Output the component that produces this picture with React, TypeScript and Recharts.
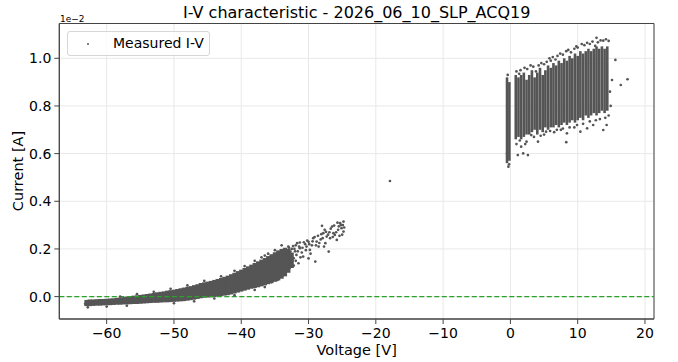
import { ComposedChart, Bar, Scatter, XAxis, YAxis, CartesianGrid, ReferenceLine, ReferenceArea, Legend } from 'recharts'

// current values are in units of 1e-2 A, as on the axis

// dense reverse-bias band, read as voltage columns (low / high current)
const NEG_V = [-63, -62.5, -62, -61.5, -61, -60.5, -60, -59.5, -59, -58.5, -58, -57.5, -57, -56.5, -56, -55.5, -55, -54.5, -54, -53.5,
  -53, -52.5, -52, -51.5, -51, -50.5, -50, -49.5, -49, -48.5, -48, -47.5, -47, -46.5, -46, -45.5, -45, -44.5, -44, -43.5,
  -43, -42.5, -42, -41.5, -41, -40.5, -40, -39.5, -39, -38.5, -38, -37.5, -37, -36.5, -36, -35.5, -35, -34.5, -34, -33.5,
  -33, -32.5]
const NEG_LO = [-0.040, -0.040, -0.039, -0.038, -0.038, -0.037, -0.036, -0.036, -0.035, -0.034, -0.034, -0.033, -0.032, -0.032, -0.031, -0.031, -0.030, -0.029, -0.028, -0.027,
  -0.026, -0.026, -0.025, -0.024, -0.024, -0.023, -0.022, -0.021, -0.020, -0.019, -0.017, -0.015, -0.013, -0.010, -0.007, -0.005, -0.004, -0.003, -0.002, 0.000,
  0.002, 0.004, 0.006, 0.009, 0.013, 0.017, 0.021, 0.025, 0.029, 0.033, 0.036, 0.039, 0.043, 0.047, 0.052, 0.057, 0.062, 0.068, 0.075, 0.085,
  0.100, 0.120]
const NEG_HI = [-0.014, -0.012, -0.012, -0.011, -0.010, -0.010, -0.009, -0.008, -0.007, -0.005, -0.004, -0.002, 0.000, 0.002, 0.004, 0.005, 0.007, 0.009, 0.011, 0.013,
  0.015, 0.018, 0.020, 0.022, 0.025, 0.027, 0.029, 0.032, 0.035, 0.038, 0.041, 0.044, 0.048, 0.052, 0.057, 0.060, 0.063, 0.066, 0.070, 0.074,
  0.078, 0.083, 0.088, 0.094, 0.100, 0.107, 0.113, 0.120, 0.127, 0.134, 0.141, 0.148, 0.155, 0.162, 0.170, 0.178, 0.186, 0.194, 0.200, 0.205,
  0.200, 0.185]

// forward cluster columns (incl. the thin sweep near 0 V)
const POS_V = [-0.5, -0.15, 0.8, 1.2, 1.6, 2.0, 2.4, 2.8, 3.2, 3.6, 4.0, 4.4, 4.8, 5.2, 5.6, 6.0, 6.4, 6.8, 7.2, 7.6,
  8.0, 8.4, 8.8, 9.2, 9.6, 10.0, 10.4, 10.8, 11.2, 11.6, 12.0, 12.4, 12.8, 13.2, 13.6, 14.0, 14.4]
const POS_LO = [0.56, 0.57, 0.66, 0.67, 0.66, 0.67, 0.68, 0.68, 0.69, 0.70, 0.68, 0.70, 0.69, 0.71, 0.70, 0.71, 0.71, 0.72, 0.71, 0.72,
  0.73, 0.72, 0.73, 0.74, 0.73, 0.74, 0.75, 0.74, 0.76, 0.75, 0.76, 0.77, 0.76, 0.77, 0.78, 0.77, 0.78]
const POS_HI = [0.92, 0.90, 0.93, 0.92, 0.93, 0.94, 0.91, 0.93, 0.95, 0.92, 0.94, 0.96, 0.93, 0.95, 0.97, 0.96, 0.98, 0.97, 0.99, 0.98,
  1.00, 0.99, 1.01, 1.00, 1.02, 1.01, 1.03, 1.02, 1.03, 1.04, 1.03, 1.04, 1.05, 1.04, 1.05, 1.04, 1.05]

// individual samples around the edges and in sparse regions
const DOTS: [number, number][] = [
  [-31.7, 0.224], [-31.3, 0.227], [-30.3, 0.210], [-29.3, 0.245], [-28.8, 0.231], [-28.0, 0.297], [-27.8, 0.266], [-27.3, 0.252],
  [-26.5, 0.294], [-26.3, 0.266], [-25.8, 0.238], [-25.3, 0.308], [-25.1, 0.287], [-24.8, 0.273], [-29.0, 0.147], [-30.8, 0.168],
  [-27.0, 0.189], [-33.2, 0.182], [-32.7, 0.189], [-31.3, 0.203], [-29.8, 0.196], [-28.5, 0.210], [-27.5, 0.224], [-26.8, 0.245],
  [-26.1, 0.259], [-25.6, 0.280], [-32.2, 0.161], [-33.7, 0.091], [-33.0, 0.210], [-32.5, 0.200], [-32.0, 0.190], [-31.8, 0.175],
  [-31.0, 0.185], [-30.5, 0.220], [-30.0, 0.230], [-29.5, 0.215], [-28.2, 0.240], [-27.6, 0.280], [-26.9, 0.270], [-25.5, 0.295],
  [-25.0, 0.260], [-24.9, 0.300], [-32.8, 0.120], [-33.3, 0.140], [-32.4, 0.150], [-31.5, 0.140], [-30.0, 0.160], [-34.0, 0.215],
  [-35.0, 0.195], [-36.0, 0.180], [-34.6, 0.070], [-35.5, 0.060], [-33.9, 0.100], [-33.5, 0.170], [-32.9, 0.160],
  [-33.1, 0.195], [-32.9, 0.205], [-32.6, 0.178], [-32.3, 0.212], [-32.1, 0.200], [-31.9, 0.215], [-31.6, 0.190], [-31.4, 0.210],
  [-31.2, 0.165], [-30.9, 0.205], [-30.7, 0.228], [-30.4, 0.195], [-30.2, 0.235], [-29.9, 0.220], [-29.7, 0.180], [-29.4, 0.232],
  [-29.1, 0.250], [-28.9, 0.215], [-28.6, 0.255], [-28.4, 0.225], [-28.1, 0.262], [-27.9, 0.245], [-27.7, 0.210], [-27.4, 0.272],
  [-27.1, 0.260], [-26.7, 0.285], [-26.4, 0.250], [-26.2, 0.298], [-25.9, 0.270], [-25.7, 0.310], [-25.4, 0.255], [-25.2, 0.300],
  [-24.7, 0.290], [-24.8, 0.315], [-32.2, 0.130], [-31.9, 0.150], [-32.6, 0.140],
  [-63.2, -0.030], [-62.8, -0.045], [-60.0, -0.042], [-57.0, -0.038], [-58.0, 0.000], [-55.5, 0.010], [-53.0, 0.020], [-50.5, 0.033],
  [-48.0, 0.047], [-45.5, 0.066], [-43.0, 0.085], [-41.0, 0.108], [-39.5, 0.128], [-38.0, 0.150], [-37.0, 0.165], [-36.5, 0.172],
  [-50.0, -0.028], [-47.0, -0.020], [-44.0, -0.008], [-41.0, 0.006], [-38.0, 0.028], [-36.5, 0.040],
  [-17.9, 0.485],
  [-0.3, 0.545], [-0.4, 0.930], [-0.5, 0.600], [-0.2, 0.555],
  [12.8, 1.086], [13.8, 1.074], [14.6, 1.073], [12.6, 1.052], [13.0, 1.067], [15.6, 0.993], [16.4, 0.888], [17.4, 0.912], [15.1, 0.909],
  [1.5, 0.950], [2.5, 0.955], [3.0, 0.970], [4.6, 0.980], [7.0, 1.010], [8.3, 1.030], [9.5, 1.040], [11.0, 1.055], [10.0, 1.045], [6.0, 0.990],
  [0.9, 0.945], [1.3, 0.935], [2.1, 0.960], [3.4, 0.965], [3.8, 0.945], [4.2, 0.970], [5.0, 0.975], [5.4, 0.985], [5.8, 1.000],
  [6.3, 1.005], [6.7, 0.995], [7.4, 1.020], [7.8, 1.015], [8.6, 1.035], [9.0, 1.025], [9.8, 1.050], [10.6, 1.060], [11.4, 1.065],
  [11.8, 1.060], [12.2, 1.070], [13.4, 1.075], [14.2, 1.080],
  [8.3, 0.648], [10.4, 0.692], [13.8, 0.699], [11.4, 0.706], [8.4, 0.685], [12.3, 0.720], [14.3, 0.720], [1.1, 0.594], [1.9, 0.601],
  [2.6, 0.594], [1.6, 0.629], [2.4, 0.650], [3.1, 0.678], [4.1, 0.650], [5.3, 0.692], [6.5, 0.690], [7.5, 0.700], [9.5, 0.710],
  [0.9, 0.640], [1.4, 0.655], [2.2, 0.640], [3.5, 0.670], [4.5, 0.675], [5.0, 0.680], [5.9, 0.695], [6.9, 0.700], [7.8, 0.705],
  [8.8, 0.710], [9.9, 0.720], [10.8, 0.725], [11.8, 0.735], [12.7, 0.740], [13.3, 0.745], [14.1, 0.750],
  [14.6, 0.760], [14.9, 0.800], [14.8, 0.860],
]

const X_TICKS = [-60, -50, -40, -30, -20, -10, 0, 10, 20]
const Y_TICKS = [0, 0.2, 0.4, 0.6, 0.8, 1.0]

const FONT = 'DejaVu Sans, sans-serif'
const GRAY = '#555555'

const columns = [
  ...NEG_V.map((v, i) => ({ v, range: [NEG_LO[i], NEG_HI[i]], neg: true })),
  ...POS_V.map((v, i) => ({ v, range: [POS_LO[i], POS_HI[i]], neg: false })),
]
const dotData = DOTS.map(([v, c]) => ({ v, c }))

const fmtX = (v: number) => (v < 0 ? '\u2212' + Math.abs(v) : String(v))

// columns in the reverse band are packed tighter than the forward sweeps
const Strip = (p: any) => {
  const w = p.payload?.neg ? 4.2 : 2.6
  const cx = p.x + p.width / 2
  return <rect x={cx - w / 2} y={p.y} width={w} height={Math.max(p.height, 1)} fill={GRAY} />
}

const Dot = (p: any) => <circle cx={p.cx} cy={p.cy} r={1.35} fill={GRAY} />

function LegendBox() {
  return (
    <div style={{ width: 143, height: 25, boxSizing: 'border-box', border: '1px solid #d6d6d6', borderRadius: 3,
      background: 'rgba(255,255,255,0.8)', position: 'relative', fontFamily: FONT, fontSize: 14 }}>
      <div style={{ position: 'absolute', left: 18.5, top: 10.5, width: 2.6, height: 2.6, borderRadius: '50%', background: GRAY }} />
      <div style={{ position: 'absolute', left: 45, top: 3, lineHeight: '17px', color: '#000', whiteSpace: 'nowrap' }}>Measured I-V</div>
    </div>
  )
}

export default function App() {
  return (
    <div style={{ position: 'absolute', left: 0, top: 0, width: 678, height: 362, background: '#fff' }}>
      <ComposedChart width={678} height={362} data={columns} margin={{ top: 23.5, right: 24, bottom: 13, left: 9.3 }}>
        <CartesianGrid stroke="#e8e8e8" strokeWidth={1} />
        <XAxis type="number" dataKey="v" domain={[-67.04, 21.34]} allowDataOverflow ticks={X_TICKS} interval={0}
          tickFormatter={fmtX} height={30} tickSize={5} tickMargin={4} stroke="#444"
          tick={{ fill: '#000', fontSize: 14, fontFamily: FONT }} />
        <YAxis type="number" domain={[-0.094, 1.146]} allowDataOverflow ticks={Y_TICKS} interval={0}
          tickFormatter={(v: number) => v.toFixed(1)} width={50} tickSize={5} tickMargin={3} stroke="#444"
          tick={{ fill: '#000', fontSize: 14, fontFamily: FONT }} />
        <Bar dataKey="range" barSize={4} shape={Strip} isAnimationActive={false} legendType="none" />
        <Scatter name="Measured I-V" data={dotData} dataKey="c" shape={Dot} isAnimationActive={false} />
        <ReferenceLine y={0} stroke="#2ca02c" strokeWidth={1.2} strokeDasharray="5 2.5" />
        <ReferenceArea x1={-67.04} x2={21.34} y1={-0.094} y2={1.146} fill="none" fillOpacity={0} stroke="#444" strokeWidth={1} ifOverflow="visible" />
        <Legend layout="horizontal" verticalAlign="middle" align="center"
          wrapperStyle={{ top: 31, left: 67, width: 143, height: 25 }} content={() => <LegendBox />} />
      </ComposedChart>
      <svg width={678} height={362} style={{ position: 'absolute', left: 0, top: 0, pointerEvents: 'none' }}>
        <text x={356.7} y={18.3} textAnchor="middle" fontFamily={FONT} fontSize={16} fill="#000">
          I-V characteristic - 2026_06_10_SLP_ACQ19
        </text>
        <text x={60} y={21.5} fontFamily={FONT} fontSize={9} fill="#000">1e{'\u2212'}2</text>
        <text x={356.7} y={355} textAnchor="middle" fontFamily={FONT} fontSize={14.5} fill="#000">Voltage [V]</text>
        <text x={22.5} y={171} textAnchor="middle" fontFamily={FONT} fontSize={14.5} fill="#000"
          transform="rotate(-90, 22.5, 171)">Current [A]</text>
      </svg>
    </div>
  )
}
